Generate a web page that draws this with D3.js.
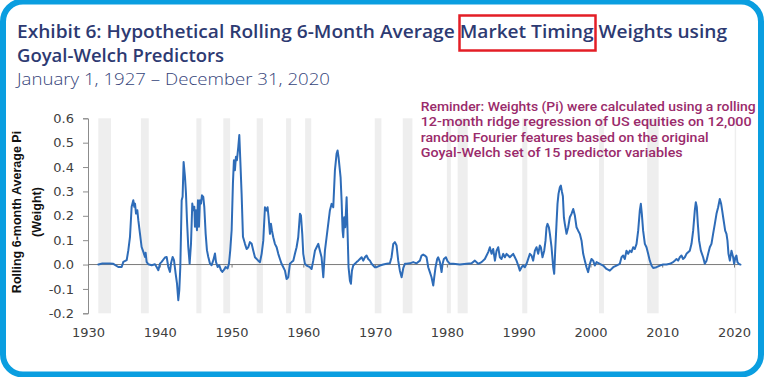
<!DOCTYPE html>
<html>
<head>
<meta charset="utf-8">
<script src="https://cdn.jsdelivr.net/npm/d3@7"></script>
<style>
  html, body { margin: 0; padding: 0; background: #ffffff; }
  svg { display: block; }
</style>
</head>
<body>
<svg id="chart" width="764" height="377"></svg>
<script>
// ---------------- DATA ----------------
const years = [
1931.44,1932.0,1933.0,1933.53,1934.22,1934.69,1934.92,1935.39,1935.62,1935.85,1936.08,1936.31,1936.45,1936.55,1936.69,1936.87,1937.01,1937.24,1937.47,1937.71,1937.94,1938.03,1938.17,1938.40,1938.87,1939.33,1939.56,1939.80,1940.03,1940.26,1940.72,1940.96,1941.19,1941.42,1941.56,1941.79,1941.98,1942.21,1942.40,1942.58,1942.72,1942.86,1943.05,1943.18,1943.32,1943.51,1943.65,1943.79,1943.97,1944.16,1944.35,1944.53,1944.67,1944.81,1944.90,1945.04,1945.18,1945.32,1945.46,1945.60,1945.74,1945.88,1946.06,1946.20,1946.39,1946.57,1946.76,1946.99,1947.22,1947.46,1947.69,1947.83,1948.06,1948.29,1948.52,1948.71,1948.99,1949.17,1949.45,1949.64,1949.82,1950.01,1950.19,1950.33,1950.47,1950.61,1950.75,1950.94,1951.08,1951.22,1951.40,1951.59,
1951.87,1952.10,1952.33,1952.56,1952.80,1953.03,1953.26,1953.72,1953.96,1954.19,1954.42,1954.65,1954.88,1955.02,1955.16,1955.35,1955.49,1955.63,1955.81,1956.04,1956.28,1956.51,1956.74,1956.97,1957.21,1957.44,1957.67,1957.90,1958.13,1958.37,1958.60,1958.83,1959.06,1959.29,1959.53,1959.67,1959.85,1959.99,1960.22,1960.46,1960.92,1961.15,1961.38,1961.62,1961.85,1962.08,1962.31,1962.54,1962.78,1963.01,1963.24,1963.47,1963.70,1963.94,1964.17,1964.40,1964.63,1964.77,1964.91,1965.05,1965.19,1965.33,1965.47,1965.56,1965.70,1965.84,1966.03,1966.17,1966.30,1966.49,1966.63,1966.77,1966.95,1967.19,1967.42,1967.65,1967.88,1968.12,1968.35,1968.58,1968.81,1969.04,1969.28,1969.51,1969.74,1969.97,1970.20,1970.67,1971.13,1971.60,1972.06,1972.29,1972.53,1972.76,1972.99,1973.22,1973.45,
1973.69,1973.92,1974.15,1974.38,1974.85,1975.31,1975.78,1976.24,1976.47,1976.70,1976.94,1977.17,1977.40,1977.63,1977.86,1978.10,1978.24,1978.42,1978.65,1978.79,1979.03,1979.26,1979.40,1979.58,1979.86,1980.09,1980.42,1980.88,1981.81,1982.74,1983.44,1983.90,1984.36,1984.83,1985.29,1985.76,1985.99,1986.22,1986.45,1986.69,1986.92,1987.15,1987.38,1987.61,1987.85,1988.08,1988.31,1988.54,1988.77,1989.01,1989.24,1989.47,1989.70,1989.94,1990.17,1990.40,1990.63,1990.86,1991.10,1991.33,1991.56,1991.79,1992.02,1992.26,1992.49,1992.72,1992.95,1993.09,1993.32,1993.56,1993.74,1993.88,1994.02,1994.21,1994.35,1994.58,1994.81,1994.95,1995.09,1995.27,1995.41,1995.55,1995.74,1995.88,
1996.02,1996.16,1996.30,1996.43,1996.67,1996.90,1997.13,1997.36,1997.60,1997.83,1998.06,1998.29,1998.52,1998.76,1998.99,1999.22,1999.45,1999.68,1999.92,2000.15,2000.38,2000.61,2000.85,2001.31,2001.77,2002.24,2002.70,2003.17,2003.63,2004.09,2004.33,2004.56,2004.79,2005.02,2005.26,2005.49,2005.72,2005.95,2006.18,2006.42,2006.65,2006.88,2007.02,2007.16,2007.34,2007.58,2007.81,2008.04,2008.27,2008.51,2008.74,2009.20,2009.67,2010.13,2010.59,2011.06,2011.52,2011.75,2011.99,2012.22,2012.45,2012.68,2012.91,2013.15,2013.38,2013.84,2014.08,2014.31,2014.54,2014.68,2014.82,2014.96,2015.14,2015.38,2015.70,2015.93,2016.17,2016.40,2016.63,2016.86,2017.09,2017.33,2017.56,2017.79,2018.02,2018.21,2018.35,2018.49,2018.63,2018.77,2018.95,2019.09,2019.23,2019.42,2019.65,2019.88,2020.02,2020.20,2020.34,2020.48,2020.67,2020.90
];
const weights = [
0.0,0.004,0.004,0.003,-0.01,-0.01,0.011,0.018,0.059,0.114,0.237,0.264,0.237,0.25,0.209,0.223,0.182,0.127,0.072,0.052,0.031,0.048,0.011,0.001,-0.003,0.001,-0.01,-0.023,0.004,0.011,0.029,0.031,-0.01,-0.03,0.004,0.031,0.018,-0.037,-0.078,-0.146,-0.105,-0.01,0.264,0.278,0.421,0.36,0.291,0.182,0.072,0.004,0.086,0.25,0.223,0.237,0.155,0.223,0.141,0.264,0.155,0.264,0.25,0.284,0.278,0.237,0.127,0.059,0.031,0.004,-0.003,0.018,0.045,0.011,-0.01,-0.003,-0.023,-0.03,-0.02,-0.01,-0.016,0.004,0.059,0.141,0.332,0.428,0.387,0.442,0.428,0.483,0.531,0.428,0.291,0.114,
0.085,0.064,0.071,0.092,0.085,0.057,0.030,0.016,0.010,0.044,0.098,0.235,0.222,0.235,0.194,0.126,0.167,0.139,0.112,0.085,0.071,0.044,0.023,0.003,-0.011,-0.025,-0.059,-0.052,0.003,0.010,0.016,0.044,0.071,0.112,0.208,0.201,0.126,0.044,0.003,-0.004,-0.011,-0.018,0.016,0.057,0.071,0.085,0.057,0.030,-0.052,0.057,0.112,0.167,0.222,0.249,0.235,0.386,0.454,0.468,0.44,0.399,0.358,0.263,0.139,0.112,0.194,0.153,0.276,0.126,-0.011,-0.066,-0.079,-0.025,-0.004,0.003,0.010,0.016,0.023,0.030,0.016,0.030,0.037,0.023,0.016,0.003,-0.004,-0.011,-0.011,-0.004,0.0,0.003,0.005,0.030,0.085,0.092,0.078,0.016,-0.025,
-0.052,-0.015,0.003,0.003,0.005,0.010,0.005,0.016,0.037,0.041,0.037,0.030,-0.011,-0.031,-0.052,-0.086,-0.052,-0.011,0.023,0.030,0.010,-0.031,0.003,0.023,0.030,0.014,0.003,0.003,0.0,0.003,0.005,0.016,0.003,0.010,0.023,0.051,0.071,0.044,0.064,0.016,0.057,0.071,0.030,0.023,0.044,0.030,0.044,0.037,0.030,0.037,0.044,0.030,0.016,-0.004,-0.025,-0.011,-0.004,-0.011,0.003,0.023,0.044,0.037,0.016,0.057,0.071,0.044,0.078,0.071,0.030,0.057,0.098,0.153,0.167,0.153,0.126,0.071,-0.011,-0.038,0.057,0.167,0.249,0.29,0.317,0.324,
0.30,0.28,0.194,0.167,0.126,0.153,0.194,0.208,0.228,0.201,0.153,0.139,0.126,0.098,0.044,0.016,-0.011,-0.031,0.003,0.023,0.016,-0.004,0.010,0.003,-0.004,-0.018,-0.025,-0.011,-0.004,0.003,0.030,0.037,0.023,0.057,0.044,0.057,0.051,0.071,0.064,0.085,0.139,0.222,0.249,0.208,0.139,0.085,0.071,0.044,0.016,-0.004,-0.014,-0.011,-0.004,0.0,0.0,0.003,0.010,0.016,0.023,0.016,0.030,0.037,0.023,0.030,0.044,0.057,0.085,0.139,0.222,0.256,0.235,0.167,0.098,0.057,0.030,0.003,0.016,0.044,0.071,0.085,0.126,0.167,0.208,0.235,0.269,0.249,0.222,0.194,0.167,0.139,0.126,0.098,0.044,0.016,0.057,0.030,0.003,0.030,0.037,0.010,0.003,0.0
];
const recessionStarts = [1931.44,1937.37,1945.10,1948.85,1953.50,1957.60,1960.25,1969.95,1973.85,1980.00,1981.50,1990.50,2001.20,2007.90,2020.10];
const recessionEnds   = [1933.20,1938.46,1945.80,1949.80,1954.37,1958.30,1961.10,1970.88,1975.20,1980.55,1982.90,1991.20,2001.88,2009.50,2020.30];
const xTickLabels = [1930,1940,1950,1960,1970,1980,1990,2000,2010,2020];
const yTicks = [-0.2,-0.1,0.0,0.1,0.2,0.3,0.4,0.5,0.6];
const titleLine1 = "Exhibit 6: Hypothetical Rolling 6-Month Average Market Timing Weights using";
const titleLine2 = "Goyal-Welch Predictors";
const subtitle = "January 1, 1927 \u2013 December 31, 2020";
const yTitle = ["Rolling 6-month Average Pi", "(Weight)"];
const noteLines = [
  "Reminder: Weights (Pi) were calculated using a rolling",
  "12-month ridge regression of US equities on 12,000",
  "random Fourier features based on the original",
  "Goyal-Welch set of 15 predictor variables"
];

// ---------------- DRAW ----------------
const svg = d3.select("#chart");
const x = d3.scaleLinear().domain([1930, 2020]).range([88, 734]);
const y = d3.scaleLinear().domain([-0.2, 0.6]).range([313.3, 118.3]);

// frame
svg.append("rect").attr("x", 3).attr("y", 1.5).attr("width", 758).attr("height", 373)
  .attr("rx", 20).attr("ry", 20).attr("fill", "#ffffff")
  .attr("stroke", "#0a9ee0").attr("stroke-width", 6);

// titles
svg.append("text").attr("x", 17).attr("y", 38.3)
  .attr("font-family", "'Open Sans', sans-serif").attr("font-weight", 600)
  .attr("font-size", 18).attr("fill", "#2d3a72")
  .attr("textLength", 710).attr("lengthAdjust", "spacingAndGlyphs")
  .text(titleLine1);
svg.append("text").attr("x", 17).attr("y", 61.5)
  .attr("font-family", "'Open Sans', sans-serif").attr("font-weight", 600)
  .attr("font-size", 18).attr("fill", "#2d3a72")
  .attr("textLength", 207).attr("lengthAdjust", "spacingAndGlyphs")
  .text(titleLine2);
svg.append("text").attr("x", 17).attr("y", 85)
  .attr("font-family", "'Open Sans', sans-serif").attr("font-weight", 300)
  .attr("font-size", 16.5).attr("fill", "#35447a")
  .attr("textLength", 313).attr("lengthAdjust", "spacingAndGlyphs")
  .text(subtitle);

// red highlight box
svg.append("rect").attr("x", 459.5).attr("y", 15.5).attr("width", 136).attr("height", 35)
  .attr("fill", "none").attr("stroke", "#e31e26").attr("stroke-width", 2.5);

// recession shading
const rec = recessionStarts.map((s, i) => ({s, e: recessionEnds[i]}));
svg.append("g").selectAll("rect").data(rec).join("rect")
  .attr("x", d => x(d.s)).attr("width", d => x(d.e) - x(d.s))
  .attr("y", y(0.6)).attr("height", y(-0.2) - y(0.6))
  .attr("fill", "#eeeeee");

// y axis
const yAxis = svg.append("g").attr("transform", `translate(${x(1930)},0)`)
  .call(d3.axisLeft(y).tickValues(yTicks).tickSize(5).tickPadding(9).tickFormat(d => d.toFixed(1)));
yAxis.select(".domain").attr("stroke", "#8c8c8c");
yAxis.selectAll(".tick line").attr("stroke", "#8c8c8c");
yAxis.selectAll(".tick text").attr("font-family", "'DejaVu Sans', Verdana, sans-serif")
  .attr("font-size", 13).attr("fill", "#404040");

// zero line axis with small ticks
const zeroAxis = svg.append("g").attr("transform", `translate(0,${y(0)})`)
  .call(d3.axisBottom(x).tickValues(xTickLabels).tickSize(3).tickSizeOuter(0).tickFormat(""));
zeroAxis.select(".domain").attr("stroke", "#7a7a7a").attr("d", `M${x(1930)},0H${x(2020.9)}`);
zeroAxis.selectAll(".tick line").attr("stroke", "#7a7a7a");

// bottom labels
const xAxis = svg.append("g").attr("transform", `translate(0,${y(-0.2)})`)
  .call(d3.axisBottom(x).tickValues(xTickLabels).tickSize(0).tickPadding(14).tickFormat(d3.format("d")));
xAxis.select(".domain").remove();
xAxis.selectAll(".tick text").attr("font-family", "'DejaVu Sans', Verdana, sans-serif")
  .attr("font-size", 13).attr("fill", "#404040");

// y title
yTitle.forEach((t, i) => {
  svg.append("text")
    .attr("transform", `translate(${i === 0 ? 16.5 : 37},212) rotate(-90)`)
    .attr("text-anchor", "middle").attr("dominant-baseline", "central")
    .attr("font-family", "'Liberation Sans', Arial, sans-serif").attr("font-weight", "bold")
    .attr("font-size", 12.5).attr("fill", "#111")
    .text(t);
});

// series line
const data = years.map((yr, i) => ({yr, v: weights[i]}));
svg.append("path").datum(data)
  .attr("fill", "none").attr("stroke", "#2e6cb8").attr("stroke-width", 2)
  .attr("stroke-linejoin", "round").attr("stroke-linecap", "round")
  .attr("d", d3.line().x(d => x(d.yr)).y(d => y(d.v)));

// note
const noteLens = [335, 331, 288, 262];
noteLines.forEach((t, i) => {
  svg.append("text").attr("x", 420.7).attr("y", 111 + i * 15.3)
    .attr("font-family", "Roboto, 'Liberation Sans', Arial, sans-serif")
    .attr("font-weight", 500)
    .attr("font-size", 13).attr("fill", "#9a2b6b")
    .attr("textLength", noteLens[i]).attr("lengthAdjust", "spacingAndGlyphs")
    .text(t);
});
</script>
</body>
</html>
